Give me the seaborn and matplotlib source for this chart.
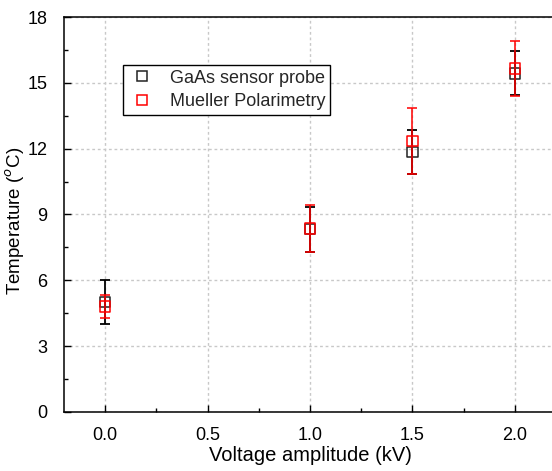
import matplotlib
matplotlib.use("Agg")
import matplotlib.pyplot as plt
from matplotlib.lines import Line2D
from matplotlib.ticker import MultipleLocator
import seaborn as sns

# ---- data ----
voltage = [0.0, 1.0, 1.5, 2.0]
gaas_temp = [5.02, 8.33, 11.86, 15.43]
gaas_err = [1.0, 1.02, 1.0, 1.0]
mueller_temp = [4.81, 8.36, 12.35, 15.66]
mueller_err = [0.51, 1.07, 1.5, 1.25]

sns.set_theme(style="ticks")
plt.rcParams["font.family"] = ["Liberation Sans", "DejaVu Sans"]

fig = plt.figure(figsize=(5.52, 4.71), dpi=100)
ax = fig.add_axes([0.116, 0.1253, 0.8912, 0.8386])

# GaAs sensor (black)
ax.errorbar(voltage, gaas_temp, yerr=gaas_err, fmt="none", ecolor="black",
            elinewidth=1.3, capsize=3.8, capthick=1.3, zorder=3)
sns.scatterplot(x=voltage, y=gaas_temp, marker="s", s=55, color="none",
                edgecolor="#222222", linewidth=1.1, ax=ax, zorder=4)

# Mueller polarimetry (red)
ax.errorbar(voltage, mueller_temp, yerr=mueller_err, fmt="none", ecolor="red",
            elinewidth=1.3, capsize=3.8, capthick=1.3, alpha=0.85, zorder=5)
sns.scatterplot(x=voltage, y=mueller_temp, marker="s", s=55, color="none",
                edgecolor="red", linewidth=1.1, ax=ax, zorder=6)

ax.set_xlim(-0.2, 2.2)
ax.set_ylim(0, 18)
ax.xaxis.set_major_locator(MultipleLocator(0.5))
ax.xaxis.set_minor_locator(MultipleLocator(0.25))
ax.yaxis.set_major_locator(MultipleLocator(3))
ax.yaxis.set_minor_locator(MultipleLocator(1.5))
ax.set_xticks([0.0, 0.5, 1.0, 1.5, 2.0])
ax.set_xticklabels(["0.0", "0.5", "1.0", "1.5", "2.0"])

ax.tick_params(which="major", direction="in", length=5, width=1, labelsize=13,
               color="black", labelcolor="black")
ax.tick_params(axis="x", which="major", pad=11)
ax.tick_params(axis="y", which="major", pad=12)
ax.tick_params(which="minor", direction="in", length=3, width=1, color="black")
ax.tick_params(top=False, right=False, which="both")

for sp in ax.spines.values():
    sp.set_color("black")
    sp.set_linewidth(1.1)

ax.grid(True, which="major", color="#c8c8c8", linestyle=(0, (2, 2)), linewidth=1)
ax.set_axisbelow(True)

ax.set_xlabel("Voltage amplitude (kV)", fontsize=14.5, color="black", labelpad=1)
ax.set_ylabel("Temperature ($^{o}$C)", fontsize=13.5, color="black")
ax.yaxis.set_label_coords(-0.076, 0.483)

handles = [
    Line2D([], [], marker="s", linestyle="none", markersize=7, markerfacecolor="none",
           markeredgecolor="#222222", markeredgewidth=1.1),
    Line2D([], [], marker="s", linestyle="none", markersize=7, markerfacecolor="none",
           markeredgecolor="red", markeredgewidth=1.1),
]
leg = ax.legend(handles, ["GaAs sensor probe", "Mueller Polarimetry"],
                loc="upper left", bbox_to_anchor=(0.12, 0.878), borderaxespad=0,
                fontsize=13, frameon=True, fancybox=False, edgecolor="black",
                handlelength=1.6, handletextpad=0.75, borderpad=0.25, labelspacing=0.35)
leg.get_frame().set_linewidth(1)
leg.get_frame().set_alpha(1)

fig.savefig("out.png", dpi=100)
